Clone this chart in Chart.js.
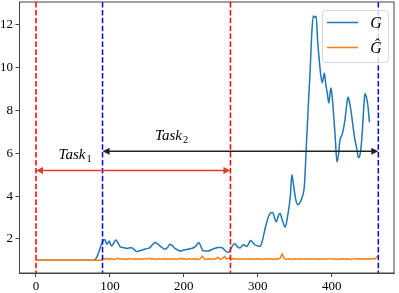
<!DOCTYPE html>
<html lang="en">
<head>
    <meta charset="UTF-8">
    <title>G and G hat</title>
    <script src="https://cdn.jsdelivr.net/npm/chart.js"></script>
    <style>
        html, body { margin: 0; padding: 0; background: #fff; }
        #wrap { width: 399px; height: 293px; }
    </style>
</head>
<body>
    <div id="wrap"><canvas id="gChart"></canvas></div>

    <script>
        // G curve, [x, value]
        const gPoints = [
            [0, 1.0], [40, 1.0], [78, 1.0], [82, 1.13], [86, 1.5], [90, 1.88], [93, 1.97], [96, 1.75],
            [99, 1.9], [102, 1.67], [105, 1.8], [108, 1.95], [111, 1.8], [114, 1.63], [118, 1.6], [123, 1.56],
            [129, 1.59], [133, 1.5], [136, 1.41], [140, 1.45], [145, 1.5], [150, 1.55], [154, 1.6], [158, 1.75],
            [161, 1.83], [164, 1.78], [168, 1.67], [174, 1.52], [178, 1.6], [181, 1.75], [184, 1.7], [188, 1.56],
            [195, 1.44], [200, 1.48], [204, 1.51], [213, 1.59], [217, 1.7], [220, 1.84], [223, 1.65], [226, 1.45],
            [233, 1.44], [240, 1.54], [247, 1.6], [251, 1.6], [256, 1.45], [260, 1.37], [263, 1.5], [266, 1.7],
            [269, 1.78], [273, 1.62], [276, 1.58], [279, 1.7], [281, 1.73], [285, 1.65], [288, 1.8], [290, 1.93],
            [293, 1.85], [296, 1.73], [300, 1.68], [303, 1.65], [306, 1.9], [310, 2.5], [314, 3.0], [317, 3.21],
            [320, 3.24], [323, 2.95], [325, 2.8], [328, 3.1], [330, 3.2], [333, 2.9], [337, 2.55], [340, 3.0],
            [344, 4.0], [346, 5.0], [348, 4.6], [351, 3.9], [354, 3.6], [357, 3.7], [360, 3.95], [363, 4.5],
            [366, 6.6], [369, 8.7], [371, 10.05], [373, 11.6], [375, 12.42], [377, 12.35], [379, 12.4], [381, 11.2],
            [383, 10.4], [385, 9.7], [387, 9.3], [389, 9.6], [390, 9.75], [392, 9.2], [394, 8.8], [396, 8.35],
            [398, 8.9], [399, 9.05], [401, 8.5], [403, 7.6], [405, 6.6], [407, 5.6], [409, 5.9], [411, 6.6],
            [413, 6.8], [415, 7.0], [418, 7.6], [420, 8.2], [422, 8.63], [424, 8.4], [426, 8.0], [429, 7.2],
            [431, 6.7], [434, 6.2], [436, 5.8], [438, 5.9], [440, 6.4], [442, 7.4], [444, 8.5], [445, 8.8],
            [447, 8.6], [449, 8.2], [451, 7.45]
        ];

        // G hat curve, [x, value]
        const gHatPoints = [
            [0, 1.0], [89, 1.0], [90, 1.10], [93, 1.06], [96, 1.09], [99, 1.05], [102, 1.08], [105, 1.04],
            [108, 1.07], [111, 1.10], [114, 1.05], [117, 1.08], [120, 1.06], [123, 1.04], [126, 1.09], [129, 1.06],
            [132, 1.05], [135, 1.08], [138, 1.05], [141, 1.07], [144, 1.04], [147, 1.08], [150, 1.06], [153, 1.10],
            [156, 1.05], [159, 1.07], [162, 1.04], [165, 1.08], [168, 1.06], [171, 1.05], [174, 1.09], [177, 1.05],
            [180, 1.07], [183, 1.04], [186, 1.08], [189, 1.06], [192, 1.05], [195, 1.10], [198, 1.06], [201, 1.07],
            [204, 1.04], [207, 1.09], [210, 1.05], [213, 1.07], [216, 1.06], [219, 1.04], [222, 1.08], [225, 1.20],
            [228, 1.06], [231, 1.05], [234, 1.08], [237, 1.04], [240, 1.07], [243, 1.06], [246, 1.15], [249, 1.05],
            [252, 1.08], [255, 1.18], [258, 1.06], [261, 1.12], [264, 1.05], [267, 1.09], [270, 1.05], [273, 1.07],
            [276, 1.04], [279, 1.08], [282, 1.06], [285, 1.05], [288, 1.08], [291, 1.04], [294, 1.07], [297, 1.05],
            [300, 1.08], [303, 1.06], [306, 1.04], [309, 1.07], [312, 1.05], [315, 1.08], [318, 1.06], [321, 1.04],
            [324, 1.07], [327, 1.05], [330, 1.09], [333, 1.30], [336, 1.07], [339, 1.05], [342, 1.08], [345, 1.06],
            [348, 1.04], [351, 1.07], [354, 1.05], [357, 1.08], [360, 1.06], [363, 1.05], [366, 1.07], [369, 1.04],
            [372, 1.08], [375, 1.06], [378, 1.05], [381, 1.07], [384, 1.04], [387, 1.08], [390, 1.06], [393, 1.05],
            [396, 1.07], [399, 1.09], [402, 1.05], [405, 1.07], [408, 1.04], [411, 1.06], [414, 1.08], [417, 1.05],
            [420, 1.07], [423, 1.06], [426, 1.04], [429, 1.07], [432, 1.09], [435, 1.06], [438, 1.08], [441, 1.05],
            [444, 1.07], [447, 1.06], [450, 1.08], [453, 1.07], [456, 1.09], [459, 1.08], [462, 1.20]
        ];

        const xTicks = [0, 100, 200, 300, 400];
        const yTicks = [2, 4, 6, 8, 10, 12];

        // vertical task boundaries
        const redLines = [0, 263];
        const blueLines = [90, 463];

        // task arrows: [from, to], height, label position
        const task1Span = [0, 263];
        const task1Y = 5.2;
        const task1Label = [53, 5.73];
        const task2Span = [90, 463];
        const task2Y = 6.1;
        const task2Label = [183.5, 6.6];

        const seriesNames = ['G', 'Ĝ'];
        const seriesColors = ['#1f77b4', '#ff7f0e'];

        const serif = "'Liberation Serif', 'DejaVu Serif', serif";

        function arrowHead(ctx, x, y, dir, color) {
            ctx.fillStyle = color;
            ctx.beginPath();
            ctx.moveTo(x, y);
            ctx.lineTo(x - dir * 7, y - 3.5);
            ctx.lineTo(x - dir * 7, y + 3.5);
            ctx.closePath();
            ctx.fill();
        }

        function drawArrow(ctx, xs, span, yPix, color) {
            const a = xs.getPixelForValue(span[0]);
            const b = xs.getPixelForValue(span[1]);
            ctx.strokeStyle = color;
            ctx.lineWidth = 1.5;
            ctx.setLineDash([]);
            ctx.beginPath();
            ctx.moveTo(a + 4, yPix);
            ctx.lineTo(b - 4, yPix);
            ctx.stroke();
            arrowHead(ctx, a, yPix, -1, color);
            arrowHead(ctx, b, yPix, 1, color);
        }

        function drawTaskLabel(ctx, xPix, yPix, sub) {
            ctx.fillStyle = '#000';
            ctx.textBaseline = 'alphabetic';
            ctx.font = 'italic 15px ' + serif;
            const main = 'Task';
            const w1 = ctx.measureText(main).width;
            ctx.font = '10.5px ' + serif;
            const w2 = ctx.measureText(sub).width;
            const start = xPix - (w1 + w2 + 1) / 2;
            ctx.font = 'italic 15px ' + serif;
            ctx.textAlign = 'left';
            ctx.fillText(main, start, yPix);
            ctx.font = '10.5px ' + serif;
            ctx.fillText(sub, start + w1 + 1, yPix + 3);
        }

        const overlay = {
            id: 'overlay',
            afterDatasetsDraw(chart) {
                const { ctx, chartArea, scales } = chart;
                const xs = scales.x, ys = scales.y;
                ctx.save();

                // dashed vertical lines
                ctx.lineWidth = 1.5;
                ctx.setLineDash([5.5, 2.4]);
                const vline = (v, color) => {
                    const px = xs.getPixelForValue(v);
                    ctx.strokeStyle = color;
                    ctx.beginPath();
                    ctx.moveTo(px, chartArea.top);
                    ctx.lineTo(px, chartArea.bottom);
                    ctx.stroke();
                };
                redLines.forEach(v => vline(v, '#ff0000'));
                blueLines.forEach(v => vline(v, '#0000ff'));

                // task arrows and labels
                drawArrow(ctx, xs, task1Span, ys.getPixelForValue(task1Y), '#e33a33');
                drawArrow(ctx, xs, task2Span, ys.getPixelForValue(task2Y), '#222');
                drawTaskLabel(ctx, xs.getPixelForValue(task1Label[0]), ys.getPixelForValue(task1Label[1]), '1');
                drawTaskLabel(ctx, xs.getPixelForValue(task2Label[0]), ys.getPixelForValue(task2Label[1]), '2');

                // frame
                ctx.setLineDash([]);
                ctx.strokeStyle = '#444';
                ctx.lineWidth = 1;
                ctx.strokeRect(chartArea.left, chartArea.top, chartArea.right - chartArea.left, chartArea.bottom - chartArea.top);

                // legend box in the upper right corner
                const bw = 66, bh = 52;
                const bx = chartArea.right - 6 - bw;
                const by = chartArea.top + 8;
                ctx.fillStyle = 'rgba(255,255,255,0.8)';
                ctx.strokeStyle = '#d6d6d6';
                ctx.beginPath();
                ctx.roundRect(bx + 0.5, by + 0.5, bw, bh, 3);
                ctx.fill();
                ctx.stroke();
                seriesNames.forEach((name, i) => {
                    const ly = by + 12.5 + i * 25;
                    ctx.strokeStyle = seriesColors[i];
                    ctx.lineWidth = 1.5;
                    ctx.beginPath();
                    ctx.moveTo(bx + 5, ly);
                    ctx.lineTo(bx + 36, ly);
                    ctx.stroke();
                    ctx.fillStyle = '#000';
                    ctx.font = 'italic 16px ' + serif;
                    ctx.textAlign = 'center';
                    ctx.textBaseline = 'middle';
                    ctx.fillText(name, bx + 54, ly + 1);
                });

                ctx.restore();
            }
        };

        const tickFont = { family: serif, size: 13 };

        const ctx = document.getElementById('gChart').getContext('2d');
        new Chart(ctx, {
            type: 'line',
            data: {
                datasets: [
                    {
                        label: seriesNames[0],
                        data: gPoints.map(p => ({ x: p[0], y: p[1] })),
                        borderColor: seriesColors[0],
                        borderWidth: 1.5,
                        pointRadius: 0,
                        cubicInterpolationMode: 'monotone',
                        fill: false,
                        order: 2
                    },
                    {
                        label: seriesNames[1],
                        data: gHatPoints.map(p => ({ x: p[0], y: p[1] })),
                        borderColor: seriesColors[1],
                        borderWidth: 1.5,
                        pointRadius: 0,
                        fill: false,
                        order: 1
                    }
                ]
            },
            options: {
                responsive: true,
                maintainAspectRatio: false,
                animation: false,
                events: [],
                layout: { padding: { top: 2, right: 5, left: 0, bottom: 0 } },
                plugins: {
                    legend: { display: false },
                    tooltip: { enabled: false }
                },
                scales: {
                    x: {
                        type: 'linear',
                        min: -22.3,
                        max: 484.2,
                        afterBuildTicks: s => { s.ticks = xTicks.map(v => ({ value: v })); },
                        afterFit: s => { s.height = 20; s.paddingLeft = 0; s.paddingRight = 0; },
                        grid: { display: true, drawOnChartArea: false, drawTicks: true, tickLength: 4, color: '#444' },
                        border: { display: true, color: '#444' },
                        ticks: { font: tickFont, color: '#000', padding: 2, maxRotation: 0 }
                    },
                    y: {
                        type: 'linear',
                        min: 0.41,
                        max: 13.07,
                        afterBuildTicks: s => { s.ticks = yTicks.map(v => ({ value: v })); },
                        afterFit: s => { s.width = 19.5; s.paddingTop = 0; s.paddingBottom = 0; },
                        grid: { display: true, drawOnChartArea: false, drawTicks: true, tickLength: 4, color: '#444' },
                        border: { display: true, color: '#444' },
                        ticks: { font: tickFont, color: '#000', padding: 2.5 }
                    }
                }
            },
            plugins: [overlay]
        });
    </script>
</body>
</html>
